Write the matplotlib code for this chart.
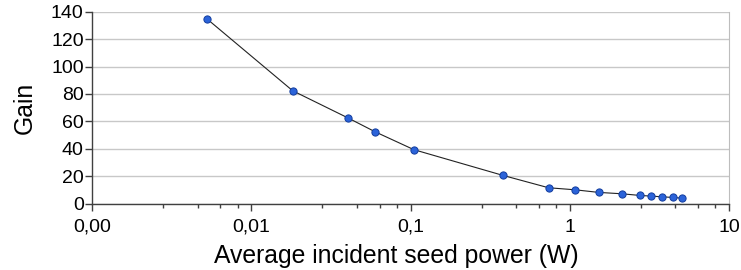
import matplotlib
matplotlib.use('Agg')
import matplotlib.pyplot as plt
from matplotlib.ticker import FixedLocator, FixedFormatter

seed_power = [0.00528, 0.0182, 0.0406, 0.0598, 0.105, 0.381, 0.736, 1.08,
              1.52, 2.12, 2.75, 3.24, 3.79, 4.45, 5.05]
gain = [134.7, 82.3, 62.4, 52.4, 39.3, 20.5, 11.5, 10.0,
        8.1, 7.1, 5.9, 5.4, 4.9, 4.4, 3.9]

x_ticks = [0.001, 0.01, 0.1, 1, 10]
x_tick_labels = ['0,00', '0,01', '0,1', '1', '10']
y_ticks = [0, 20, 40, 60, 80, 100, 120, 140]

plt.rcParams['font.family'] = ['Liberation Sans', 'DejaVu Sans']

fig = plt.figure(figsize=(7.41, 2.70), dpi=100)
ax = fig.add_axes([92 / 741, 1 - 203.5 / 270, 637 / 741, 191.8 / 270])

ax.plot(seed_power, gain, color='#222222', lw=0.8, zorder=2)
ax.plot(seed_power, gain, ls='none', marker='o', ms=5.2,
        mfc='#2b63d9', mec='#123d9e', mew=0.7, zorder=3)

ax.set_xscale('log')
ax.set_xlim(0.001, 10)
ax.set_ylim(0, 140)

# minor ticks split each decade into five linear steps
minor = [d * m for d in [0.001, 0.01, 0.1, 1] for m in [2.8, 4.6, 6.4, 8.2]]
ax.xaxis.set_major_locator(FixedLocator(x_ticks))
ax.xaxis.set_major_formatter(FixedFormatter(x_tick_labels))
ax.xaxis.set_minor_locator(FixedLocator(minor))
ax.xaxis.set_minor_formatter(FixedFormatter([''] * len(minor)))
ax.set_yticks(y_ticks)

ax.grid(axis='y', color='#c8c8c8', lw=1.0, zorder=0)
ax.set_axisbelow(True)

for s in ['left', 'bottom']:
    ax.spines[s].set_color('#404040')
    ax.spines[s].set_linewidth(1.0)
ax.spines['top'].set_visible(False)
ax.spines['right'].set_color('#bdbdbd')

ax.tick_params(axis='both', which='major', direction='out', length=5,
               width=1, color='#404040', labelsize=14)
ax.tick_params(axis='y', which='major', pad=1)
ax.tick_params(axis='x', which='major', pad=6)
ax.tick_params(axis='x', which='minor', direction='out', length=3,
               width=1, color='#404040')

ax.set_xlabel('Average incident seed power (W)', fontsize=17.8, labelpad=6, x=0.477)
ax.set_ylabel('Gain', fontsize=17.8, labelpad=10)

fig.savefig('out.png', dpi=100)
